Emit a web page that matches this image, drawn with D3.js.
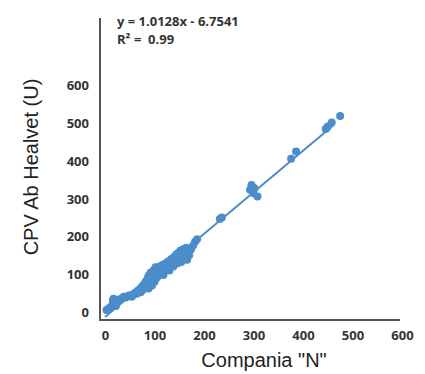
<!DOCTYPE html>
<html>
<head>
<meta charset="utf-8">
<script src="https://cdn.jsdelivr.net/npm/d3@7"></script>
<style>
  body { margin: 0; background: #fff; }
  svg { display: block; }
</style>
</head>
<body>
<script>
// data points (Compania "N" vs CPV Ab Healvet)
var compania = [3, 8, 12, 15, 16, 17, 20, 22, 26, 30, 34, 38, 42, 46, 50, 54, 58, 60, 64, 66, 70, 72, 74, 76, 78, 80, 82, 84, 86, 88, 88, 90, 92, 94, 95, 96, 98, 100, 100, 102, 104, 106, 108, 110, 112, 114, 116, 118, 120, 122, 124, 126, 128, 130, 132, 134, 136, 138, 140, 142, 144, 146, 148, 150, 152, 154, 156, 158, 160, 162, 164, 166, 168, 170, 174, 178, 182, 186,
  232, 236, 293, 296, 300, 302, 308, 376, 386, 446, 450, 458, 475];
var healvet = [5, 10, 14, 18, 30, 35, 22, 16, 28, 34, 36, 40, 38, 42, 44, 40, 46, 50, 48, 56, 60, 52, 66, 58, 72, 64, 80, 70, 88, 62, 96, 76, 104, 84, 70, 92, 110, 80, 100, 118, 90, 106, 96, 120, 102, 112, 124, 98, 108, 128, 114, 120, 134, 110, 124, 140, 130, 120, 146, 136, 152, 128, 156, 140, 162, 132, 150, 166, 146, 158, 170, 138, 160, 150, 166, 176, 186, 192,
  246, 250, 323, 336, 314, 327, 305, 405, 424, 484, 490, 501, 518];
var xTicks = [0, 100, 200, 300, 400, 500, 600];
var yTicks = [0, 100, 200, 300, 400, 500, 600];
var equation = "y = 1.0128x - 6.7541";
var r2 = "0.99";

var width = 425, height = 374;
var blue = "#4a8dca";

var svg = d3.select("body").append("svg")
  .attr("width", width)
  .attr("height", height);

var x = d3.scaleLinear().domain([0, 600]).range([105, 402]);
var y = d3.scaleLinear().domain([0, 600]).range([312, 85]);

// trend line fitted to the plotted points
var mx = d3.mean(compania), my = d3.mean(healvet);
var sxy = d3.sum(compania, function(d, i) { return (d - mx) * (healvet[i] - my); });
var sxx = d3.sum(compania, function(d) { return (d - mx) * (d - mx); });
var b = sxy / sxx, a = my - b * mx;

svg.append("line")
  .attr("x1", x(0))
  .attr("y1", y(a))
  .attr("x2", x(462))
  .attr("y2", y(a + b * 462))
  .attr("stroke", blue)
  .attr("stroke-width", 2);

// points
svg.selectAll("circle")
  .data(compania)
  .enter()
  .append("circle")
  .attr("cx", function(d) { return x(d); })
  .attr("cy", function(d, i) { return y(healvet[i]); })
  .attr("r", 4)
  .attr("fill", blue);

// axis lines
svg.append("line")
  .attr("x1", 100).attr("y1", 18).attr("x2", 100).attr("y2", 321)
  .attr("stroke", "#555").attr("stroke-width", 2);
svg.append("line")
  .attr("x1", 99).attr("y1", 320).attr("x2", 400).attr("y2", 320)
  .attr("stroke", "#555").attr("stroke-width", 2);

// tick labels
var xAxis = svg.append("g")
  .attr("transform", "translate(0,337)")
  .call(d3.axisBottom(x).tickValues(xTicks).tickSize(0).tickFormat(d3.format("d")));
var yAxis = svg.append("g")
  .attr("transform", "translate(89,0)")
  .call(d3.axisLeft(y).tickValues(yTicks).tickSize(0).tickFormat(d3.format("d")));
svg.selectAll(".domain").remove();
svg.selectAll(".tick text")
  .attr("font-family", "'Open Sans', sans-serif")
  .attr("font-weight", "bold")
  .attr("font-size", 13)
  .attr("fill", "#333");
xAxis.selectAll(".tick text").attr("dy", 0);
yAxis.selectAll(".tick text").attr("x", 0).attr("dy", "0.35em");

// equation
svg.append("text")
  .text(equation)
  .attr("x", 117).attr("y", 26)
  .attr("font-family", "'Open Sans', sans-serif")
  .attr("font-weight", "bold")
  .attr("font-size", 13)
  .attr("fill", "#333");
svg.append("text")
  .text("R\u00b2 =  " + r2)
  .attr("x", 117).attr("y", 44)
  .attr("font-family", "'Open Sans', sans-serif")
  .attr("font-weight", "bold")
  .attr("font-size", 13)
  .attr("fill", "#333")
  .attr("xml:space", "preserve");

// axis titles
svg.append("text")
  .text("Compania \"N\"")
  .attr("x", 264).attr("y", 367)
  .attr("text-anchor", "middle")
  .attr("font-family", "'Liberation Sans', Arial, sans-serif")
  .attr("font-size", 20)
  .attr("fill", "#222");
svg.append("text")
  .text("CPV Ab Healvet (U)")
  .attr("transform", "translate(38,167) rotate(-90)")
  .attr("text-anchor", "middle")
  .attr("font-family", "'Liberation Sans', Arial, sans-serif")
  .attr("font-size", 20)
  .attr("fill", "#222");
</script>
</body>
</html>
